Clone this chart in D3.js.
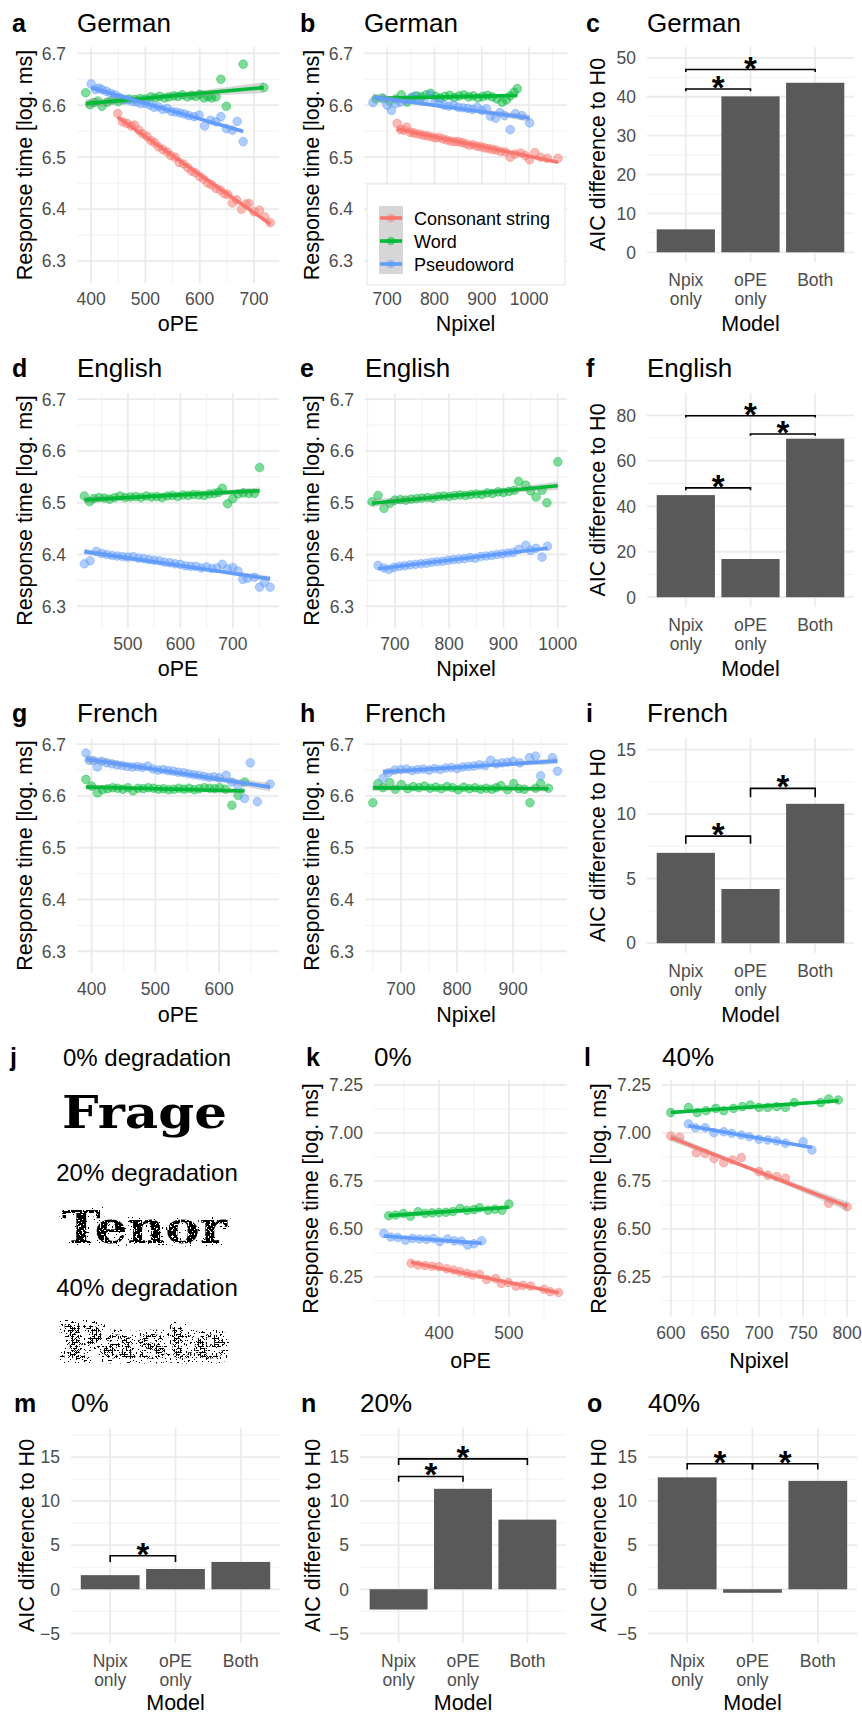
<!DOCTYPE html>
<html>
<head>
<meta charset="utf-8">
<script src="https://cdn.jsdelivr.net/npm/d3@7"></script>
<style>
body { margin: 0; background: #fff; }
svg text { font-family: "Liberation Sans", Arial, Helvetica, sans-serif; }
</style>
</head>
<body>
<div id="fig"></div>
<script>
var width = 862, height = 1716;

var groupNames = ["Consonant string", "Word", "Pseudoword"];
var groupColors = ["#F8766D", "#00BA38", "#619CFF"];
var modelCats = ["Npix only", "oPE only", "Both"];
var modelLabels = [["Npix", "only"], ["oPE", "only"], ["Both"]];

// ---- scatter data, [x, log RT] ----
// a: German, oPE
var aRed = [[449,6.584],[458,6.568],[466,6.565],[474,6.560],[480,6.562],[488,6.552],[495,6.545],[503,6.540],[510,6.532],[517,6.528],[524,6.520],[532,6.515],[540,6.510],[547,6.503],[555,6.500],[562,6.490],[570,6.487],[578,6.480],[585,6.473],[592,6.470],[600,6.463],[607,6.458],[615,6.450],[622,6.447],[630,6.440],[638,6.437],[645,6.430],[652,6.428],[660,6.412],[668,6.418],[677,6.400],[685,6.410],[691,6.411],[700,6.395],[710,6.398],[720,6.385],[730,6.374]];
var aGreen = [[390,6.624],[398,6.601],[405,6.605],[412,6.608],[420,6.598],[430,6.606],[440,6.610],[450,6.607],[460,6.610],[470,6.612],[480,6.611],[490,6.613],[500,6.612],[510,6.616],[518,6.614],[526,6.617],[535,6.614],[543,6.616],[552,6.618],[560,6.617],[568,6.620],[577,6.616],[585,6.619],[593,6.617],[600,6.621],[608,6.614],[615,6.617],[622,6.614],[630,6.616],[639,6.650],[649,6.598],[680,6.679],[718,6.634]];
var aBlue = [[400,6.641],[408,6.630],[414,6.633],[420,6.630],[428,6.627],[436,6.623],[444,6.620],[452,6.615],[460,6.612],[468,6.610],[476,6.607],[484,6.606],[492,6.603],[500,6.604],[508,6.600],[516,6.596],[524,6.597],[532,6.592],[540,6.594],[548,6.588],[556,6.587],[564,6.585],[572,6.583],[580,6.580],[590,6.578],[599,6.581],[609,6.560],[620,6.571],[630,6.568],[639,6.578],[649,6.555],[660,6.552],[669,6.569],[680,6.530]];

// b: German, Npixel
var bRed = [[721,6.565],[728,6.553],[735,6.552],[741,6.558],[748,6.548],[755,6.547],[762,6.545],[770,6.544],[778,6.542],[786,6.541],[794,6.539],[802,6.537],[810,6.538],[818,6.535],[826,6.533],[834,6.531],[842,6.530],[850,6.530],[858,6.528],[866,6.526],[874,6.523],[882,6.524],[890,6.521],[898,6.520],[906,6.518],[914,6.517],[922,6.515],[930,6.514],[940,6.511],[950,6.510],[960,6.500],[970,6.506],[982,6.508],[992,6.503],[1001,6.495],[1012,6.509],[1024,6.500],[1038,6.498],[1061,6.498]];
var bGreen = [[676,6.612],[690,6.614],[705,6.608],[718,6.612],[730,6.620],[742,6.606],[752,6.615],[762,6.618],[772,6.616],[782,6.620],[792,6.623],[802,6.617],[812,6.614],[822,6.617],[832,6.619],[842,6.615],[852,6.618],[862,6.620],[872,6.616],[882,6.618],[892,6.614],[902,6.617],[912,6.619],[922,6.616],[932,6.612],[943,6.606],[952,6.610],[960,6.618],[968,6.625],[975,6.632]];
var bBlue = [[670,6.605],[690,6.612],[700,6.600],[709,6.590],[718,6.603],[728,6.606],[738,6.610],[748,6.612],[758,6.617],[768,6.610],[778,6.608],[790,6.620],[800,6.606],[810,6.604],[820,6.600],[830,6.598],[840,6.601],[850,6.596],[860,6.595],[870,6.594],[880,6.592],[890,6.596],[900,6.590],[910,6.593],[918,6.579],[929,6.575],[938,6.586],[948,6.580],[960,6.553],[971,6.584],[985,6.580],[1001,6.566]];

// d: English, oPE
var dGreen = [[417,6.513],[427,6.502],[435,6.508],[445,6.510],[455,6.509],[465,6.507],[475,6.510],[485,6.513],[495,6.510],[505,6.511],[515,6.512],[525,6.510],[535,6.513],[545,6.511],[555,6.512],[565,6.510],[575,6.513],[585,6.514],[595,6.512],[605,6.515],[615,6.514],[625,6.516],[635,6.515],[645,6.514],[655,6.517],[665,6.518],[673,6.520],[680,6.528],[690,6.498],[700,6.508],[710,6.517],[720,6.519],[730,6.518],[741,6.518],[751,6.568]];
var dBlue = [[417,6.382],[428,6.388],[440,6.406],[450,6.402],[460,6.400],[470,6.398],[480,6.397],[490,6.396],[500,6.395],[510,6.396],[520,6.393],[530,6.392],[540,6.390],[550,6.389],[560,6.388],[570,6.385],[580,6.384],[590,6.382],[600,6.381],[610,6.378],[620,6.377],[630,6.377],[640,6.374],[650,6.376],[660,6.373],[670,6.374],[680,6.381],[690,6.372],[700,6.375],[710,6.368],[719,6.352],[728,6.354],[741,6.356],[751,6.337],[760,6.346],[771,6.337]];

// e: English, Npixel
var eGreen = [[658,6.502],[669,6.514],[680,6.489],[691,6.499],[700,6.505],[710,6.506],[720,6.505],[730,6.507],[740,6.508],[750,6.509],[760,6.510],[770,6.509],[780,6.512],[790,6.513],[800,6.512],[810,6.514],[820,6.515],[830,6.514],[840,6.516],[850,6.517],[860,6.516],[870,6.519],[880,6.518],[890,6.521],[900,6.520],[910,6.522],[920,6.524],[928,6.541],[941,6.534],[950,6.523],[960,6.511],[971,6.524],[980,6.500],[1000,6.579]];
var eBlue = [[669,6.379],[680,6.374],[689,6.371],[698,6.375],[708,6.377],[718,6.378],[728,6.380],[738,6.381],[748,6.382],[758,6.383],[768,6.385],[778,6.386],[788,6.387],[798,6.389],[808,6.390],[818,6.391],[828,6.392],[838,6.394],[848,6.393],[858,6.396],[868,6.397],[878,6.398],[888,6.400],[898,6.401],[908,6.403],[918,6.404],[928,6.410],[941,6.418],[950,6.408],[960,6.412],[971,6.395],[981,6.416]];

// g: French, oPE
var gGreen = [[391,6.632],[400,6.619],[409,6.606],[417,6.612],[425,6.614],[433,6.616],[441,6.615],[449,6.613],[457,6.616],[465,6.610],[473,6.615],[481,6.614],[489,6.616],[497,6.615],[505,6.613],[513,6.614],[521,6.612],[529,6.613],[537,6.615],[545,6.613],[553,6.615],[561,6.612],[569,6.614],[577,6.616],[585,6.615],[593,6.614],[601,6.616],[610,6.613],[620,6.582],[630,6.601],[640,6.627]];
var gBlue = [[391,6.683],[396,6.669],[403,6.668],[409,6.656],[416,6.667],[424,6.664],[432,6.662],[440,6.660],[448,6.659],[456,6.657],[464,6.656],[472,6.657],[480,6.655],[488,6.658],[496,6.652],[504,6.650],[512,6.651],[520,6.649],[528,6.648],[536,6.646],[544,6.645],[552,6.643],[560,6.641],[568,6.640],[576,6.638],[584,6.636],[592,6.637],[600,6.635],[611,6.640],[620,6.627],[630,6.620],[640,6.595],[649,6.664],[660,6.589],[680,6.623]];

// h: French, Npixel
var hGreen = [[650,6.587],[659,6.624],[668,6.616],[680,6.626],[690,6.613],[701,6.622],[712,6.614],[722,6.618],[732,6.616],[742,6.619],[752,6.615],[762,6.617],[772,6.614],[782,6.618],[792,6.616],[802,6.612],[812,6.617],[822,6.614],[832,6.616],[842,6.613],[852,6.615],[862,6.613],[870,6.616],[878,6.620],[890,6.612],[901,6.624],[910,6.614],[920,6.613],[930,6.587],[940,6.615],[949,6.624],[963,6.615]];
var hBlue = [[668,6.634],[678,6.645],[689,6.650],[700,6.651],[710,6.652],[720,6.649],[730,6.651],[740,6.652],[750,6.650],[760,6.653],[770,6.651],[780,6.654],[790,6.655],[800,6.653],[810,6.656],[820,6.657],[830,6.658],[840,6.660],[850,6.659],[860,6.669],[870,6.662],[880,6.664],[890,6.665],[900,6.667],[912,6.664],[929,6.674],[940,6.677],[949,6.639],[970,6.674],[979,6.648]];

// k: 0% degradation, oPE
var kRed = [[360,6.320],[370,6.311],[380,6.308],[390,6.305],[400,6.302],[411,6.292],[421,6.285],[430,6.276],[440,6.268],[448,6.259],[458,6.262],[468,6.236],[481,6.241],[489,6.215],[499,6.220],[510,6.201],[520,6.205],[531,6.201],[550,6.185],[559,6.172],[571,6.168]];
var kGreen = [[328,6.568],[338,6.572],[349,6.580],[359,6.566],[370,6.589],[380,6.580],[390,6.583],[400,6.585],[410,6.586],[420,6.590],[430,6.606],[440,6.596],[450,6.600],[458,6.610],[470,6.597],[480,6.602],[490,6.597],[500,6.629]];
var kBlue = [[321,6.476],[331,6.457],[341,6.455],[352,6.441],[362,6.450],[372,6.447],[382,6.445],[392,6.449],[401,6.433],[412,6.447],[422,6.437],[432,6.436],[441,6.415],[450,6.422],[461,6.438]];

// l: 40% degradation, Npixel
var lRed = [[600,6.984],[610,6.977],[629,6.897],[639,6.893],[649,6.867],[660,6.845],[670,6.859],[680,6.871],[700,6.798],[710,6.780],[720,6.772],[730,6.763],[779,6.633],[800,6.615]];
var lGreen = [[600,7.106],[620,7.133],[630,7.106],[640,7.116],[651,7.128],[660,7.116],[671,7.128],[681,7.137],[690,7.146],[700,7.133],[710,7.133],[720,7.137],[730,7.133],[740,7.158],[770,7.158],[779,7.177],[790,7.172]];
var lBlue = [[620,7.047],[628,7.027],[639,7.027],[649,7.001],[660,7.006],[669,6.998],[680,6.989],[689,6.980],[700,6.967],[710,6.963],[720,6.958],[730,6.946],[750,6.954],[760,6.911]];

// ---- AIC difference to H0 (Npix only, oPE only, Both) ----
var cVals = [5.9, 40.1, 43.6];
var fVals = [44.9, 16.8, 69.7];
var iVals = [7.0, 4.2, 10.8];
var mVals = [1.6, 2.3, 3.1];
var nVals = [-2.3, 11.4, 7.9];
var oVals = [12.7, -0.4, 12.3];

// significance brackets: [from, to, bracket level, tip end]
var cSig = [[0, 1, 42.0, 41.4], [0, 2, 47.0, 46.4]];
var fSig = [[0, 1, 48.1, 47.0], [1, 2, 71.8, 71.0], [0, 2, 79.8, 79.0]];
var iSig = [[0, 1, 8.3, 7.7], [1, 2, 12.0, 11.3]];
var mSig = [[0, 1, 3.8, 3.1]];
var nSig = [[0, 1, 12.8, 12.2], [0, 2, 14.8, 14.1]];
var oSig = [[0, 1, 14.25, 13.6], [1, 2, 14.25, 13.6]];

// tick labels
var rtTicks = [6.3, 6.4, 6.5, 6.6, 6.7];
var rtMinor = [6.35, 6.45, 6.55, 6.65];
var rtTicksDeg = [6.25, 6.5, 6.75, 7.0, 7.25];
var rtMinorDeg = [6.125, 6.375, 6.625, 6.875, 7.125];

// row geometry
var rows = [
  {top: 47, bottom: 283, barBottom: 262, title: 32, xTitle: 331},
  {top: 393, bottom: 628, barBottom: 607, title: 377, xTitle: 676},
  {top: 738, bottom: 973, barBottom: 953, title: 722, xTitle: 1022},
  {top: 1080, bottom: 1317, barBottom: 1296, title: 1066, xTitle: 1368},
  {top: 1428, bottom: 1664, barBottom: 1643, title: 1412, xTitle: 1710}
];

var svg = d3.select("#fig").append("svg")
  .attr("width", width)
  .attr("height", height);

svg.append("rect").attr("width", width).attr("height", height).attr("fill", "#fff");

var gridMajor = {stroke: "#EBEBEB", w: 1.8};
var gridMinor = {stroke: "#EFEFEF", w: 0.9};

function linFit(pts) {
  var n = pts.length;
  var mx = d3.mean(pts, function(d) { return d[0]; });
  var my = d3.mean(pts, function(d) { return d[1]; });
  var sxx = d3.sum(pts, function(d) { return (d[0] - mx) * (d[0] - mx); });
  var sxy = d3.sum(pts, function(d) { return (d[0] - mx) * (d[1] - my); });
  var b = sxy / sxx, a = my - b * mx;
  var sse = d3.sum(pts, function(d) { return Math.pow(d[1] - a - b * d[0], 2); });
  return {a: a, b: b, mx: mx, sxx: sxx, s: Math.sqrt(sse / (n - 2)), n: n};
}

function panelTitle(letter, lx, title, tx, y) {
  svg.append("text").attr("x", lx).attr("y", y)
    .attr("font-size", 25).attr("font-weight", "bold").text(letter);
  if (title) {
    svg.append("text").attr("x", tx).attr("y", y)
      .attr("font-size", 26).text(title);
  }
}

function yTitle(text, cx, cy) {
  svg.append("text")
    .attr("transform", "translate(" + cx + "," + cy + ") rotate(-90)")
    .attr("text-anchor", "middle")
    .attr("dy", "0.35em")
    .attr("font-size", 21.5)
    .text(text);
}

function scatterPanel(p) {
  var r = rows[p.row];
  var x = d3.scaleLinear().domain(p.xDomain).range([p.left, p.right]);
  var y = d3.scaleLinear().domain(p.yDomain).range([r.bottom, r.top]);
  var g = svg.append("g");

  // grid
  g.selectAll(".xmi").data(p.xMinor).enter().append("line")
    .attr("x1", x).attr("x2", x).attr("y1", r.top).attr("y2", r.bottom)
    .attr("stroke", gridMinor.stroke).attr("stroke-width", gridMinor.w);
  g.selectAll(".ymi").data(p.yMinor).enter().append("line")
    .attr("y1", y).attr("y2", y).attr("x1", p.left).attr("x2", p.right)
    .attr("stroke", gridMinor.stroke).attr("stroke-width", gridMinor.w);
  g.selectAll(".xma").data(p.xTicks).enter().append("line")
    .attr("x1", x).attr("x2", x).attr("y1", r.top).attr("y2", r.bottom)
    .attr("stroke", gridMajor.stroke).attr("stroke-width", gridMajor.w);
  g.selectAll(".yma").data(p.yTicks).enter().append("line")
    .attr("y1", y).attr("y2", y).attr("x1", p.left).attr("x2", p.right)
    .attr("stroke", gridMajor.stroke).attr("stroke-width", gridMajor.w);

  // points then lm fit with 95% band
  p.series.forEach(function(s, i) {
    if (!s) return;
    g.append("g").selectAll("circle").data(s).enter().append("circle")
      .attr("cx", function(d) { return x(d[0]); })
      .attr("cy", function(d) { return y(d[1]); })
      .attr("r", 4.3)
      .attr("fill", groupColors[i]).attr("fill-opacity", 0.5)
      .attr("stroke", groupColors[i]).attr("stroke-opacity", 0.55).attr("stroke-width", 0.8);
  });
  p.series.forEach(function(s, i) {
    if (!s) return;
    var f = linFit(s);
    var ext = d3.extent(s, function(d) { return d[0]; });
    var xs = d3.range(0, 41).map(function(k) { return ext[0] + (ext[1] - ext[0]) * k / 40; });
    var half = function(v) { return 2.04 * f.s * Math.sqrt(1 / f.n + Math.pow(v - f.mx, 2) / f.sxx); };
    g.append("path").datum(xs)
      .attr("d", d3.area()
        .x(function(v) { return x(v); })
        .y0(function(v) { return y(f.a + f.b * v - half(v)); })
        .y1(function(v) { return y(f.a + f.b * v + half(v)); }))
      .attr("fill", "#999").attr("fill-opacity", 0.4);
    g.append("line")
      .attr("x1", x(ext[0])).attr("y1", y(f.a + f.b * ext[0]))
      .attr("x2", x(ext[1])).attr("y2", y(f.a + f.b * ext[1]))
      .attr("stroke", groupColors[i]).attr("stroke-width", 3.6);
  });

  // tick labels
  g.selectAll(".xl").data(p.xTicks).enter().append("text")
    .attr("x", x).attr("y", r.bottom + 22)
    .attr("text-anchor", "middle").attr("font-size", 17.5).attr("fill", "#4D4D4D")
    .text(function(d) { return d; });
  g.selectAll(".yl").data(p.yTicks).enter().append("text")
    .attr("x", p.left - 11).attr("y", y).attr("dy", "0.36em")
    .attr("text-anchor", "end").attr("font-size", 17.5).attr("fill", "#4D4D4D")
    .text(p.yFormat);

  svg.append("text").attr("x", (p.left + p.right) / 2).attr("y", r.xTitle)
    .attr("text-anchor", "middle").attr("font-size", 21.5).text(p.xLabel);
  yTitle("Response time [log. ms]", p.yTitleX, (r.top + r.bottom) / 2);
  panelTitle(p.letter, p.letterX, p.title, p.left, r.title);
  return {x: x, y: y};
}

function barPanel(p) {
  var r = rows[p.row];
  var x = d3.scaleBand().domain(modelCats).range([p.left, p.right])
    .paddingInner(0.1).paddingOuter(0.15);
  var y = d3.scaleLinear().domain(p.yDomain).range([r.barBottom, r.top]);
  var g = svg.append("g");

  g.selectAll(".ymi").data(p.yMinor).enter().append("line")
    .attr("y1", y).attr("y2", y).attr("x1", p.left).attr("x2", p.right)
    .attr("stroke", gridMinor.stroke).attr("stroke-width", gridMinor.w);
  g.selectAll(".yma").data(p.yTicks).enter().append("line")
    .attr("y1", y).attr("y2", y).attr("x1", p.left).attr("x2", p.right)
    .attr("stroke", gridMajor.stroke).attr("stroke-width", gridMajor.w);
  g.selectAll(".xma").data(modelCats).enter().append("line")
    .attr("x1", function(d) { return x(d) + x.bandwidth() / 2; })
    .attr("x2", function(d) { return x(d) + x.bandwidth() / 2; })
    .attr("y1", r.top).attr("y2", r.barBottom)
    .attr("stroke", gridMajor.stroke).attr("stroke-width", gridMajor.w);

  g.selectAll(".bar").data(p.values).enter().append("rect")
    .attr("x", function(d, i) { return x(modelCats[i]); })
    .attr("width", x.bandwidth())
    .attr("y", function(d) { return y(Math.max(0, d)); })
    .attr("height", function(d) { return Math.abs(y(d) - y(0)); })
    .attr("fill", "#595959");

  // brackets with stars
  var cx = function(i) { return x(modelCats[i]) + x.bandwidth() / 2; };
  p.sig.forEach(function(s) {
    g.append("path")
      .attr("d", "M" + cx(s[0]) + "," + y(s[3]) + "V" + y(s[2]) + "H" + cx(s[1]) + "V" + y(s[3]))
      .attr("fill", "none").attr("stroke", "#000").attr("stroke-width", 1.6);
    g.append("text")
      .attr("x", (cx(s[0]) + cx(s[1])) / 2).attr("y", y(s[2]) + 10)
      .attr("text-anchor", "middle").attr("font-size", 33).attr("font-weight", "bold")
      .text("*");
  });

  modelLabels.forEach(function(lines, i) {
    lines.forEach(function(t, k) {
      g.append("text").attr("x", cx(i)).attr("y", r.barBottom + 24 + k * 18.5)
        .attr("text-anchor", "middle").attr("font-size", 17.5).attr("fill", "#4D4D4D")
        .text(t);
    });
  });
  g.selectAll(".yl").data(p.yTicks).enter().append("text")
    .attr("x", p.left - 11).attr("y", y).attr("dy", "0.36em")
    .attr("text-anchor", "end").attr("font-size", 17.5).attr("fill", "#4D4D4D")
    .text(function(d) { return d < 0 ? "\u2212" + Math.abs(d) : d; });

  svg.append("text").attr("x", (p.left + p.right) / 2).attr("y", r.xTitle)
    .attr("text-anchor", "middle").attr("font-size", 21.5).text("Model");
  yTitle("AIC difference to H0", p.yTitleX, (r.top + r.barBottom) / 2);
  panelTitle(p.letter, p.letterX, p.title, p.left, r.title);
}

var fmt1 = d3.format(".1f"), fmt2 = d3.format(".2f");

// row 1: German
scatterPanel({row: 0, letter: "a", letterX: 12, title: "German", left: 77, right: 279,
  xDomain: [374, 746], xTicks: [400, 500, 600, 700], xMinor: [450, 550, 650],
  yDomain: [6.258, 6.712], yTicks: rtTicks, yMinor: rtMinor, yFormat: fmt1,
  xLabel: "oPE", yTitleX: 24, series: [aRed, aGreen, aBlue]});
scatterPanel({row: 0, letter: "b", letterX: 300, title: "German", left: 364, right: 567,
  xDomain: [651, 1080], xTicks: [700, 800, 900, 1000], xMinor: [750, 850, 950, 1050],
  yDomain: [6.258, 6.712], yTicks: rtTicks, yMinor: rtMinor, yFormat: fmt1,
  xLabel: "Npixel", yTitleX: 311, series: [bRed, bGreen, bBlue]});
barPanel({row: 0, letter: "c", letterX: 586, title: "German", left: 647, right: 854,
  yDomain: [-2.5, 52.8], yTicks: [0, 10, 20, 30, 40, 50], yMinor: [5, 15, 25, 35, 45],
  values: cVals, sig: cSig, yTitleX: 597});

// legend inside panel b
var leg = svg.append("g");
leg.append("rect").attr("x", 367).attr("y", 184).attr("width", 198).attr("height", 101)
  .attr("fill", "#fff").attr("stroke", "#E3E3E3").attr("stroke-width", 1);
leg.append("rect").attr("x", 379).attr("y", 206).attr("width", 24).attr("height", 68)
  .attr("fill", "#D6D6D6");
groupNames.forEach(function(name, i) {
  var cy = 218 + i * 23;
  leg.append("line").attr("x1", 380).attr("x2", 402).attr("y1", cy).attr("y2", cy)
    .attr("stroke", groupColors[i]).attr("stroke-width", 3.6);
  leg.append("circle").attr("cx", 391).attr("cy", cy).attr("r", 4.3)
    .attr("fill", groupColors[i]).attr("fill-opacity", 0.5);
  leg.append("text").attr("x", 414).attr("y", cy + 6.5).attr("font-size", 18).text(name);
});

// row 2: English
scatterPanel({row: 1, letter: "d", letterX: 12, title: "English", left: 77, right: 279,
  xDomain: [403, 788], xTicks: [500, 600, 700], xMinor: [450, 550, 650, 750],
  yDomain: [6.258, 6.712], yTicks: rtTicks, yMinor: rtMinor, yFormat: fmt1,
  xLabel: "oPE", yTitleX: 24, series: [null, dGreen, dBlue]});
scatterPanel({row: 1, letter: "e", letterX: 300, title: "English", left: 365, right: 567,
  xDomain: [645, 1017], xTicks: [700, 800, 900, 1000], xMinor: [650, 750, 850, 950],
  yDomain: [6.258, 6.712], yTicks: rtTicks, yMinor: rtMinor, yFormat: fmt1,
  xLabel: "Npixel", yTitleX: 311, series: [null, eGreen, eBlue]});
barPanel({row: 1, letter: "f", letterX: 586, title: "English", left: 647, right: 854,
  yDomain: [-4.3, 89.8], yTicks: [0, 20, 40, 60, 80], yMinor: [10, 30, 50, 70],
  values: fVals, sig: fSig, yTitleX: 597});

// row 3: French
scatterPanel({row: 2, letter: "g", letterX: 12, title: "French", left: 77, right: 279,
  xDomain: [377, 694], xTicks: [400, 500, 600], xMinor: [450, 550, 650],
  yDomain: [6.258, 6.712], yTicks: rtTicks, yMinor: rtMinor, yFormat: fmt1,
  xLabel: "oPE", yTitleX: 24, series: [null, gGreen, gBlue]});
scatterPanel({row: 2, letter: "h", letterX: 300, title: "French", left: 365, right: 567,
  xDomain: [636, 996], xTicks: [700, 800, 900], xMinor: [650, 750, 850, 950],
  yDomain: [6.258, 6.712], yTicks: rtTicks, yMinor: rtMinor, yFormat: fmt1,
  xLabel: "Npixel", yTitleX: 311, series: [null, hGreen, hBlue]});
barPanel({row: 2, letter: "i", letterX: 586, title: "French", left: 647, right: 854,
  yDomain: [-0.76, 15.9], yTicks: [0, 5, 10, 15], yMinor: [2.5, 7.5, 12.5],
  values: iVals, sig: iSig, yTitleX: 597});

// row 4: degradation examples and RT panels
var defs = svg.append("defs");
function degradeFilter(id, freq, holeTable, speckTable, radius, seedA, seedB) {
  var f = defs.append("filter").attr("id", id)
    .attr("x", "-15%").attr("y", "-40%").attr("width", "130%").attr("height", "180%")
    .attr("color-interpolation-filters", "sRGB");
  f.append("feTurbulence").attr("type", "fractalNoise").attr("baseFrequency", freq)
    .attr("numOctaves", 1).attr("seed", seedA).attr("result", "n1");
  f.append("feColorMatrix").attr("in", "n1").attr("type", "matrix")
    .attr("values", "0 0 0 0 0  0 0 0 0 0  0 0 0 0 0  1 0 0 0 0").attr("result", "a1");
  f.append("feComponentTransfer").attr("in", "a1").attr("result", "holes")
    .append("feFuncA").attr("type", "discrete").attr("tableValues", holeTable);
  f.append("feComposite").attr("in", "SourceGraphic").attr("in2", "holes")
    .attr("operator", "out").attr("result", "holed");
  f.append("feMorphology").attr("in", "SourceGraphic").attr("operator", "dilate")
    .attr("radius", radius).attr("result", "fat");
  f.append("feTurbulence").attr("type", "fractalNoise").attr("baseFrequency", freq)
    .attr("numOctaves", 1).attr("seed", seedB).attr("result", "n2");
  f.append("feColorMatrix").attr("in", "n2").attr("type", "matrix")
    .attr("values", "0 0 0 0 0  0 0 0 0 0  0 0 0 0 0  0 1 0 0 0").attr("result", "a2");
  f.append("feComponentTransfer").attr("in", "a2").attr("result", "specks")
    .append("feFuncA").attr("type", "discrete").attr("tableValues", speckTable);
  f.append("feComposite").attr("in", "fat").attr("in2", "specks")
    .attr("operator", "in").attr("result", "spots");
  var m = f.append("feMerge");
  m.append("feMergeNode").attr("in", "spots");
  m.append("feMergeNode").attr("in", "holed");
}
// 20-step thresholds on the noise value
degradeFilter("deg20", 0.5,
  "0 0 0 0 0 0 0 0 0 0 0 0 1 1 1 1 1 1 1 1",
  "0 0 0 0 0 0 0 0 0 0 0 0 0 0 1 1 1 1 1 1", 3, 3, 7);
degradeFilter("deg40", 0.5,
  "0 0 0 0 0 0 0 0 0 0 1 1 1 1 1 1 1 1 1 1",
  "0 0 0 0 0 0 0 0 0 0 0 0 0 1 1 1 1 1 1 1", 5, 5, 11);

var degLabels = ["0% degradation", "20% degradation", "40% degradation"];
var degWords = ["Frage", "Tenor", "Paste"];
var degFilters = [null, "url(#deg20)", "url(#deg40)"];
svg.append("text").attr("x", 10).attr("y", 1066).attr("font-size", 25)
  .attr("font-weight", "bold").text("j");
degLabels.forEach(function(t, i) {
  svg.append("text").attr("x", 147).attr("y", 1066 + i * 115)
    .attr("text-anchor", "middle").attr("font-size", 24).text(t);
  var w = svg.append("text").attr("x", 62).attr("y", 1128 + i * 115)
    .attr("font-size", 45).attr("font-weight", "bold")
    .attr("textLength", 165).attr("lengthAdjust", "spacingAndGlyphs")
    .style("font-family", "'DejaVu Serif', 'Liberation Serif', serif")
    .attr("fill", "#000").text(degWords[i]);
  if (degFilters[i]) w.attr("filter", degFilters[i]);
});

scatterPanel({row: 3, letter: "k", letterX: 306, title: "0%", left: 374, right: 567,
  xDomain: [307, 583], xTicks: [400, 500], xMinor: [350, 450, 550],
  yDomain: [6.04, 7.276], yTicks: rtTicksDeg, yMinor: rtMinorDeg, yFormat: fmt2,
  xLabel: "oPE", yTitleX: 310, series: [kRed, kGreen, kBlue]});
scatterPanel({row: 3, letter: "l", letterX: 584, title: "40%", left: 662, right: 856,
  xDomain: [590, 810], xTicks: [600, 650, 700, 750, 800], xMinor: [625, 675, 725, 775],
  yDomain: [6.04, 7.276], yTicks: rtTicksDeg, yMinor: rtMinorDeg, yFormat: fmt2,
  xLabel: "Npixel", yTitleX: 598, series: [lRed, lGreen, lBlue]});

// row 5: model comparison by degradation
var degTicks = [-5, 0, 5, 10, 15], degMinor = [-2.5, 2.5, 7.5, 12.5, 17.5];
barPanel({row: 4, letter: "m", letterX: 14, title: "0%", left: 71, right: 280,
  yDomain: [-6.1, 18.3], yTicks: degTicks, yMinor: degMinor,
  values: mVals, sig: mSig, yTitleX: 26});
barPanel({row: 4, letter: "n", letterX: 301, title: "20%", left: 360, right: 566,
  yDomain: [-6.1, 18.3], yTicks: degTicks, yMinor: degMinor,
  values: nVals, sig: nSig, yTitleX: 312});
barPanel({row: 4, letter: "o", letterX: 587, title: "40%", left: 648, right: 857,
  yDomain: [-6.1, 18.3], yTicks: degTicks, yMinor: degMinor,
  values: oVals, sig: oSig, yTitleX: 598});
</script>
</body>
</html>
